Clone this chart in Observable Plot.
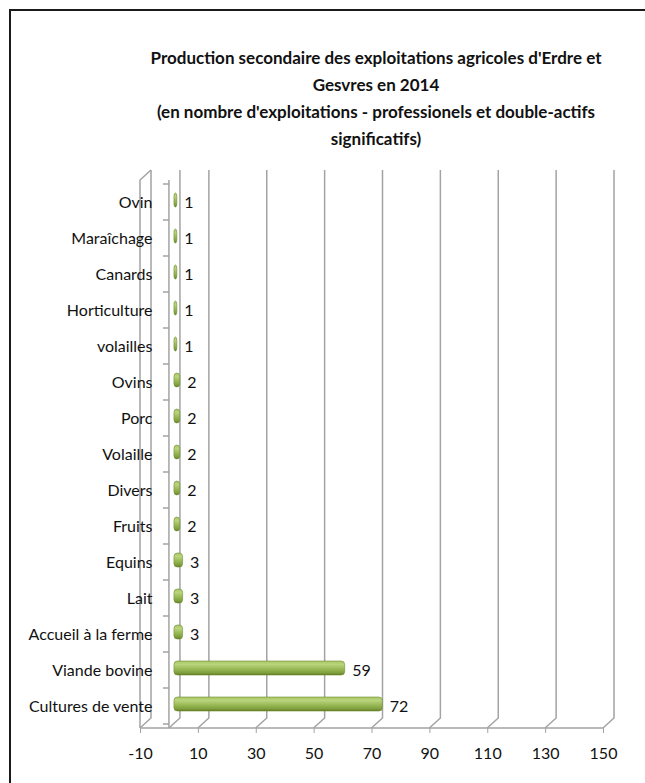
<!DOCTYPE html>
<html>
<head>
<meta charset="utf-8">
<script src="https://cdn.jsdelivr.net/npm/d3@7"></script>
<script src="https://cdn.jsdelivr.net/npm/@observablehq/plot@0.6"></script>
<style>
  html, body { margin: 0; padding: 0; background: #fff; overflow: hidden; }
  body { width: 645px; height: 783px; position: relative; font-family: Lato, "Open Sans", sans-serif; }
  #border { position: absolute; left: 9px; top: 9px; width: 800px; height: 900px; border-left: 2px solid #1a1a1a; border-top: 2px solid #1a1a1a; pointer-events: none; }
  #title { position: relative; height: 160px; }
  #title div { position: absolute; top: 44px; left: 100px; width: 552px; text-align: center; font-weight: bold; font-size: 17px; line-height: 27px; color: #111; white-space: nowrap; }
  #chart svg { display: block; }
</style>
</head>
<body>
<div id="border"></div>
<div id="title"><div>Production secondaire des exploitations agricoles d'Erdre et<br>Gesvres en 2014<br>(en nombre d'exploitations - professionels et double-actifs<br>significatifs)</div></div>
<div id="chart"></div>
<script>
const categories = ["Ovin", "Maraîchage", "Canards", "Horticulture", "volailles", "Ovins", "Porc", "Volaille", "Divers", "Fruits", "Equins", "Lait", "Accueil à la ferme", "Viande bovine", "Cultures de vente"];
const values = [1, 1, 1, 1, 1, 2, 2, 2, 2, 2, 3, 3, 3, 59, 72];
const xTicks = [-10, 10, 30, 50, 70, 90, 110, 130, 150];

const data = categories.map((c, i) => ({cat: c, value: values[i]}));

const DX = 11, DY = -10;
const gridColor = "#a3a3a3";

function frame3d(index, scales, values_, dims) {
  const x = scales.x, y = scales.y;
  const g = d3.create("svg:g").attr("fill", "none").attr("stroke", gridColor).attr("stroke-width", 1.5);
  const top = dims.marginTop;
  const bottom = dims.height - dims.marginBottom;
  const xmin = x(xTicks[0]);
  const xmax = x(xTicks[xTicks.length - 1]);
  const gridVals = [0].concat(xTicks);
  for (const v of gridVals) {
    const fx = x(v);
    g.append("path").attr("d", `M${fx + DX},${top + DY}V${bottom + DY}L${fx},${bottom}`);
  }
  g.append("path").attr("d", `M${xmin},${bottom}V${top}L${xmin + DX},${top + DY}`);
  g.append("path").attr("d", `M${xmin},${bottom}H${xmax}`);
  const x0 = x(0);
  g.append("path").attr("d", `M${x0},${top}V${bottom}`);
  const step = y(categories[1]) - y(categories[0]);
  const y0 = y(categories[0]);
  for (let k = 0; k <= categories.length; k++) {
    const yy = y0 + k * step;
    g.append("path").attr("d", `M${x0 - 6},${yy}H${x0}`);
  }
  return g.node();
}

const plot = Plot.plot({
  width: 645,
  height: 623,
  marginLeft: 140,
  marginRight: 42,
  marginTop: 20,
  marginBottom: 55,
  style: {fontFamily: "Lato, 'Open Sans', sans-serif", fontSize: "16px", color: "#111", background: "transparent"},
  x: {domain: [-10, 150]},
  y: {domain: categories, padding: 0},
  marks: [
    frame3d,
    Plot.barX(data, {y: "cat", x1: 0, x2: "value", insetTop: 11, insetBottom: 11, rx: 3.5, fill: "url(#cyl)", stroke: "#6e8c31", strokeWidth: 0.6, dx: 5, dy: -2}),
    Plot.text(data, {y: "cat", x: "value", text: d => String(d.value), dx: 12, textAnchor: "start", fontSize: 16, fill: "#111"}),
    Plot.axisX({ticks: xTicks, tickFormat: d => String(d), tickSize: 5, tickPadding: 14, stroke: gridColor, fill: "#111", fontSize: 16, label: null}),
    Plot.axisY({tickSize: 0, tickPadding: 0, dx: 12, fontSize: 16, fill: "#111", label: null})
  ]
});

d3.select(plot).insert("defs", ":first-child").html(`
  <linearGradient id="cyl" x1="0" y1="0" x2="0" y2="1">
    <stop offset="0%" stop-color="#a9c766"/>
    <stop offset="25%" stop-color="#b9d47c"/>
    <stop offset="55%" stop-color="#9bbb59"/>
    <stop offset="85%" stop-color="#7f9f3d"/>
    <stop offset="100%" stop-color="#5f7c27"/>
  </linearGradient>`);

document.getElementById("chart").appendChild(plot);
</script>
</body>
</html>
